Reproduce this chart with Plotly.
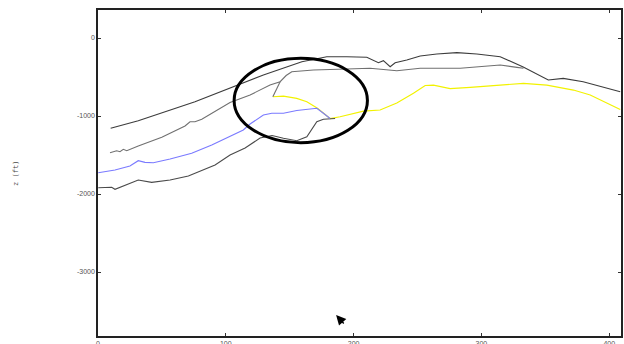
import plotly.graph_objects as go

# Horizon A (dark, top)
a_x = [9.9, 31.5, 75.9, 103.3, 129.4, 159.5, 171.2, 179.0, 194.7, 210.3, 219.4, 223.3, 228.6, 232.5,
       241.6, 252.1, 265.1, 280.8, 296.4, 314.7, 332.7, 352.3, 364.0, 379.6, 408.6]
a_z = [-1158, -1060, -817, -645, -474, -304, -260, -240, -240, -247, -317, -291, -368, -317,
       -282, -231, -205, -188, -205, -240, -372, -538, -517, -560, -688]

# Horizon B (gray)
b_x = [9.4, 14.6, 17.2, 19.8, 22.5, 31.5, 49.9, 68.1, 72.0, 75.9, 81.2, 103.3, 119.0, 134.6, 142.5,
       147.2, 151.6, 168.5, 194.6, 212.9, 233.8, 252.1, 283.4, 304.3, 314.7, 327.8, 332.9]
b_z = [-1470, -1445, -1458, -1427, -1445, -1385, -1273, -1128, -1073, -1073, -1042, -827, -730, -603, -560,
       -481, -432, -410, -397, -388, -419, -388, -388, -359, -346, -376, -388]

# Fault segment (gray)
f_x = [136.8, 142.5]
f_z = [-753, -560]

# Horizon D (blue)
d_x = [0.2, 13.3, 25.0, 31.5, 36.8, 43.3, 56.4, 73.3, 89.0, 103.3, 113.7, 119.0, 129.4, 136.0,
       145.1, 155.5, 171.2, 176.1, 181.6]
d_z = [-1727, -1692, -1641, -1573, -1594, -1599, -1551, -1478, -1372, -1256, -1179, -1103, -987, -965,
       -965, -929, -901, -962, -1032]

# Horizon E (dark, bottom)
e_x = [0.2, 10.7, 13.3, 21.1, 31.5, 42.0, 56.4, 70.7, 91.6, 103.3, 115.1, 126.8, 136.2, 145.1,
       155.5, 163.4, 171.2, 176.4, 185.5]
e_z = [-1919, -1914, -1940, -1885, -1821, -1850, -1821, -1769, -1628, -1500, -1410, -1282, -1250, -1286,
       -1317, -1265, -1073, -1042, -1032]

# Horizon Y (yellow)
y_x = [136.8, 145.1, 155.5, 163.4, 171.7, 176.1, 181.6, 189.4, 207.7, 220.7, 233.8, 246.8, 256.0,
       262.5, 275.5, 291.2, 306.8, 332.9, 351.2, 372.0, 385.1, 408.6]
y_z = [-753, -744, -773, -817, -901, -962, -1032, -1009, -938, -923, -833, -709, -609,
       -603, -650, -632, -615, -581, -603, -667, -731, -917]

x_ticks = [0, 100, 200, 300, 400]
y_ticks = [0, -1000, -2000, -3000]

fig = go.Figure()
fig.add_trace(go.Scatter(x=y_x, y=y_z, mode="lines", line=dict(color="#f2f200", width=1.2)))
fig.add_trace(go.Scatter(x=b_x, y=b_z, mode="lines", line=dict(color="#707070", width=1.1)))
fig.add_trace(go.Scatter(x=f_x, y=f_z, mode="lines", line=dict(color="#707070", width=1.1)))
fig.add_trace(go.Scatter(x=a_x, y=a_z, mode="lines", line=dict(color="#3c3c3c", width=1.1)))
fig.add_trace(go.Scatter(x=e_x, y=e_z, mode="lines", line=dict(color="#4a4a4a", width=1.1)))
fig.add_trace(go.Scatter(x=d_x, y=d_z, mode="lines", line=dict(color="#7a7aff", width=1.1)))

fig.add_shape(type="circle", xref="x", yref="y", x0=106.5, x1=210.8, y0=-1342, y1=-260,
              line=dict(color="black", width=3))

fig.add_annotation(x=186.3, y=-3551, xref="x", yref="y", text="", showarrow=True,
                   ax=9, ay=10, arrowhead=2, arrowsize=1.4, arrowwidth=1.4, arrowcolor="black")

fig.add_annotation(text="z (ft)", xref="paper", yref="paper", x=-0.157, y=0.5,
                   xanchor="center", yanchor="middle", textangle=-90, showarrow=False,
                   font=dict(family="DejaVu Sans Mono", size=7, color="#444"))

axis_common = dict(showgrid=False, zeroline=False, showline=True, linecolor="#222", linewidth=1.5,
                   mirror="ticks", ticks="inside", ticklen=3, tickcolor="#333", tickwidth=1,
                   automargin=False,
                   tickfont=dict(family="Liberation Sans", size=7, color="#555"))

fig.update_xaxes(range=[0, 409.2], tickvals=x_ticks, ticktext=[str(v) for v in x_ticks], **axis_common)
fig.update_yaxes(range=[-3820, 359], tickvals=y_ticks, ticktext=[str(v) for v in y_ticks], **axis_common)

fig.update_layout(width=624, height=344, margin=dict(l=98, r=3, t=10, b=8),
                  paper_bgcolor="white", plot_bgcolor="white", showlegend=False, hovermode=False)

# remove the browser's default page margin so the figure fills the window exactly
post = "document.documentElement.style.margin='0'; document.body.style.margin='0'; document.body.style.overflow='hidden';"
fig.write_html("out.html", post_script=post, config={"displayModeBar": False})
